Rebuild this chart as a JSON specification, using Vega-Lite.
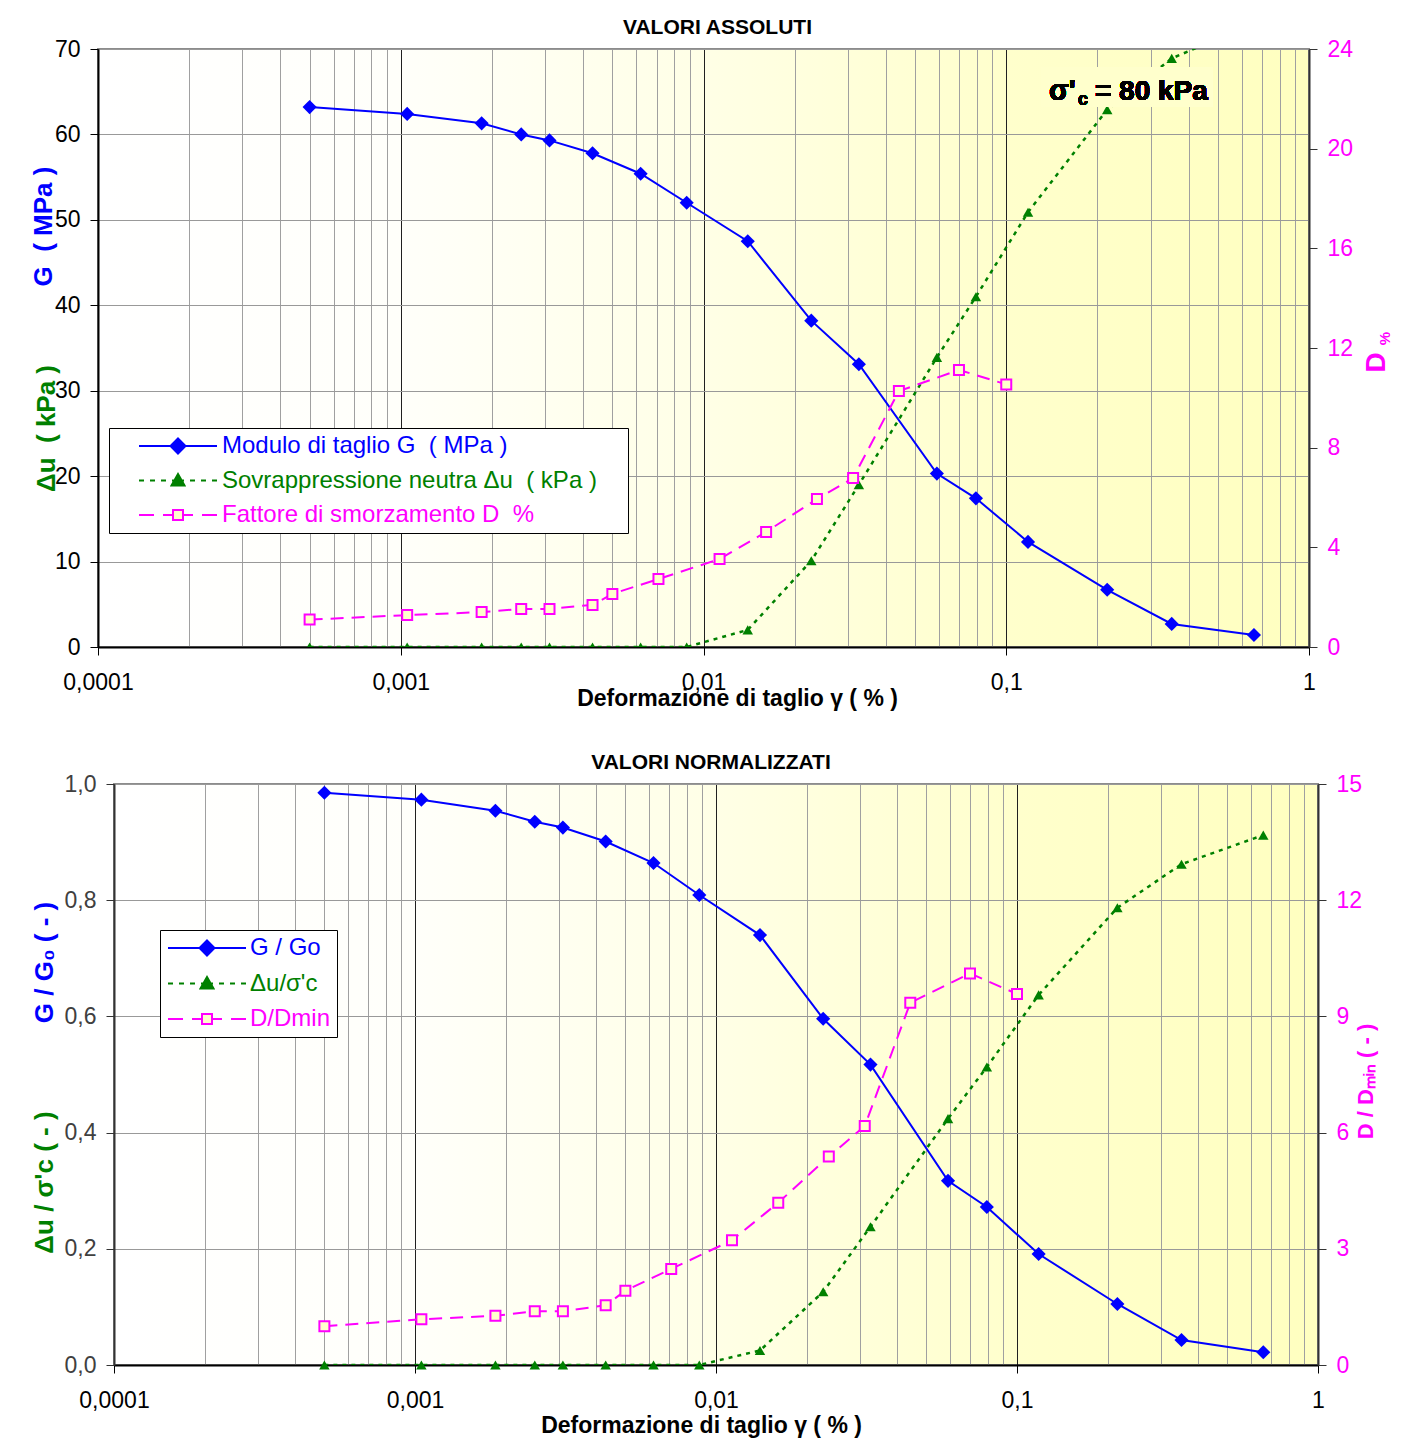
{
  "$schema": "https://vega.github.io/schema/vega-lite/v6.json",
  "background": "white",
  "padding": {"left": 29, "top": 16, "right": 0, "bottom": 0},
  "autosize": {"type": "pad"},
  "config": {"font": "Liberation Sans"},
  "datasets": {
    "top": [
      {"k": "G", "x": 0.0005, "v": 63.2}, {"k": "G", "x": 0.00105, "v": 62.4}, {"k": "G", "x": 0.00185, "v": 61.3},
      {"k": "G", "x": 0.0025, "v": 60.0}, {"k": "G", "x": 0.0031, "v": 59.3}, {"k": "G", "x": 0.0043, "v": 57.8},
      {"k": "G", "x": 0.0062, "v": 55.4}, {"k": "G", "x": 0.0088, "v": 52.0}, {"k": "G", "x": 0.014, "v": 47.5},
      {"k": "G", "x": 0.0227, "v": 38.2}, {"k": "G", "x": 0.0326, "v": 33.1}, {"k": "G", "x": 0.059, "v": 20.3},
      {"k": "G", "x": 0.0794, "v": 17.4}, {"k": "G", "x": 0.118, "v": 12.3}, {"k": "G", "x": 0.2155, "v": 6.7},
      {"k": "G", "x": 0.352, "v": 2.7}, {"k": "G", "x": 0.658, "v": 1.4},
      {"k": "du", "x": 0.0005, "v": 0}, {"k": "du", "x": 0.00105, "v": 0}, {"k": "du", "x": 0.00185, "v": 0},
      {"k": "du", "x": 0.0025, "v": 0}, {"k": "du", "x": 0.0031, "v": 0}, {"k": "du", "x": 0.0043, "v": 0},
      {"k": "du", "x": 0.0062, "v": 0}, {"k": "du", "x": 0.0088, "v": 0}, {"k": "du", "x": 0.014, "v": 2.0},
      {"k": "du", "x": 0.0227, "v": 10.1}, {"k": "du", "x": 0.0326, "v": 19.0}, {"k": "du", "x": 0.059, "v": 33.9},
      {"k": "du", "x": 0.0794, "v": 41.0}, {"k": "du", "x": 0.118, "v": 50.9}, {"k": "du", "x": 0.2155, "v": 62.9},
      {"k": "du", "x": 0.352, "v": 68.9}, {"k": "du", "x": 0.658, "v": 73.0},
      {"k": "D", "x": 0.0005, "v": 1.1}, {"k": "D", "x": 0.00105, "v": 1.28}, {"k": "D", "x": 0.00185, "v": 1.40},
      {"k": "D", "x": 0.0025, "v": 1.53}, {"k": "D", "x": 0.0031, "v": 1.53}, {"k": "D", "x": 0.0043, "v": 1.69},
      {"k": "D", "x": 0.005, "v": 2.13}, {"k": "D", "x": 0.0071, "v": 2.73}, {"k": "D", "x": 0.0113, "v": 3.53},
      {"k": "D", "x": 0.0161, "v": 4.62}, {"k": "D", "x": 0.0237, "v": 5.94}, {"k": "D", "x": 0.0312, "v": 6.78},
      {"k": "D", "x": 0.0442, "v": 10.27}, {"k": "D", "x": 0.0698, "v": 11.12}, {"k": "D", "x": 0.1, "v": 10.54}
    ],
    "bot": [
      {"k": "G", "x": 0.0005, "v": 0.985}, {"k": "G", "x": 0.00105, "v": 0.973}, {"k": "G", "x": 0.00185, "v": 0.954},
      {"k": "G", "x": 0.0025, "v": 0.935}, {"k": "G", "x": 0.0031, "v": 0.925}, {"k": "G", "x": 0.0043, "v": 0.901},
      {"k": "G", "x": 0.0062, "v": 0.864}, {"k": "G", "x": 0.0088, "v": 0.809}, {"k": "G", "x": 0.014, "v": 0.740},
      {"k": "G", "x": 0.0227, "v": 0.596}, {"k": "G", "x": 0.0326, "v": 0.517}, {"k": "G", "x": 0.059, "v": 0.317},
      {"k": "G", "x": 0.0794, "v": 0.272}, {"k": "G", "x": 0.118, "v": 0.191}, {"k": "G", "x": 0.2155, "v": 0.105},
      {"k": "G", "x": 0.352, "v": 0.043}, {"k": "G", "x": 0.658, "v": 0.022},
      {"k": "du", "x": 0.0005, "v": 0}, {"k": "du", "x": 0.00105, "v": 0}, {"k": "du", "x": 0.00185, "v": 0},
      {"k": "du", "x": 0.0025, "v": 0}, {"k": "du", "x": 0.0031, "v": 0}, {"k": "du", "x": 0.0043, "v": 0},
      {"k": "du", "x": 0.0062, "v": 0}, {"k": "du", "x": 0.0088, "v": 0}, {"k": "du", "x": 0.014, "v": 0.025},
      {"k": "du", "x": 0.0227, "v": 0.126}, {"k": "du", "x": 0.0326, "v": 0.238}, {"k": "du", "x": 0.059, "v": 0.424},
      {"k": "du", "x": 0.0794, "v": 0.513}, {"k": "du", "x": 0.118, "v": 0.637}, {"k": "du", "x": 0.2155, "v": 0.787},
      {"k": "du", "x": 0.352, "v": 0.862}, {"k": "du", "x": 0.658, "v": 0.912},
      {"k": "D", "x": 0.0005, "v": 1.0}, {"k": "D", "x": 0.00105, "v": 1.18}, {"k": "D", "x": 0.00185, "v": 1.27},
      {"k": "D", "x": 0.0025, "v": 1.39}, {"k": "D", "x": 0.0031, "v": 1.39}, {"k": "D", "x": 0.0043, "v": 1.54},
      {"k": "D", "x": 0.005, "v": 1.92}, {"k": "D", "x": 0.0071, "v": 2.48}, {"k": "D", "x": 0.0113, "v": 3.22},
      {"k": "D", "x": 0.0161, "v": 4.19}, {"k": "D", "x": 0.0237, "v": 5.38}, {"k": "D", "x": 0.0312, "v": 6.17},
      {"k": "D", "x": 0.0442, "v": 9.35}, {"k": "D", "x": 0.0698, "v": 10.11}, {"k": "D", "x": 0.1, "v": 9.58}
    ]
  },
  "resolve": {"scale": {"color": "independent"}, "legend": {"color": "independent"}},
  "spacing": 40,
  "vconcat": [
    {
      "width": 1211,
      "height": 598,
      "data": {"name": "top"},
      "view": {
        "fill": {"gradient": "linear", "x1": 0, "y1": 0, "x2": 1, "y2": 0,
          "stops": [{"offset": 0, "color": "#ffffff"}, {"offset": 0.25, "color": "#fffffa"}, {"offset": 0.5, "color": "#ffffe6"}, {"offset": 0.75, "color": "#ffffcc"}, {"offset": 1, "color": "#ffffc0"}]},
        "stroke": "#8c8c8c", "strokeWidth": 2
      },
      "title": {"text": "VALORI ASSOLUTI", "anchor": "middle", "frame": "group", "dx": 14, "offset": 0, "fontSize": 21, "font": "Liberation Sans", "fontWeight": "bold", "color": "#000000"},
      "resolve": {"scale": {"y": "independent"}},
      "layer": [
        {
          "transform": [{"filter": "datum.k === 'G'"}],
          "encoding": {
            "x": {"field": "x", "type": "quantitative",
              "scale": {"type": "log", "domain": [0.0001, 1], "nice": false},
              "axis": {
                "orient": "bottom",
                "values": [0.0001,0.0002,0.0003,0.0004,0.0005,0.0006,0.0007,0.0008,0.0009,0.001,0.002,0.003,0.004,0.005,0.006,0.007,0.008,0.009,0.01,0.02,0.03,0.04,0.05,0.06,0.07,0.08,0.09,0.1,0.2,0.3,0.4,0.5,0.6,0.7,0.8,0.9,1],
                "grid": true,
                "gridColor": {"condition": {"test": "datum.value==0.0001||datum.value==0.001||datum.value==0.01||datum.value==0.1||datum.value==1", "value": "#202020"}, "value": "#a0a0a0"},
                "gridWidth": 1,
                "tickOpacity": {"condition": {"test": "datum.value==0.0001||datum.value==0.001||datum.value==0.01||datum.value==0.1||datum.value==1", "value": 1}, "value": 0},
                "tickSize": 8, "tickColor": "#000000",
                "domainColor": "#000000", "domainWidth": 2,
                "labelExpr": "datum.value==0.0001 ? '0,0001' : datum.value==0.001 ? '0,001' : datum.value==0.01 ? '0,01' : datum.value==0.1 ? '0,1' : datum.value==1 ? '1' : ''",
                "labelFontSize": 23, "labelColor": "#000000", "labelPadding": 16,
                "labelFlush": false, "labelOverlap": false, "labelBound": false,
                "title": "Deformazione di taglio γ ( % )",
                "titleFontSize": 23, "titleFontWeight": "bold", "titleColor": "#000000",
                "titleX": 639, "titleY": 58, "titleAlign": "center", "titleBaseline": "alphabetic"
              }
            },
            "y": {"field": "v", "type": "quantitative",
              "scale": {"domain": [0, 70], "nice": false},
              "axis": {
                "orient": "left", "values": [0,10,20,30,40,50,60,70],
                "grid": true, "gridColor": "#999999", "gridWidth": 1,
                "labelFontSize": 23, "labelColor": "#000000", "labelPadding": 10,
                "tickSize": 8, "tickColor": "#000000", "domainColor": "#000000", "domainWidth": 2,
                "title": "G\u00a0\u00a0( MPa )", "titleColor": "#0000ff", "titleFontSize": 26, "titleFontWeight": "bold",
                "titleAngle": 270, "titleX": -55, "titleY": 177, "titleAlign": "center", "titleBaseline": "middle"
              }
            }
          },
          "layer": [
            {
              "mark": {"type": "line", "strokeWidth": 2},
              "encoding": {
                "color": {"field": "k", "type": "nominal",
                  "scale": {"domain": ["G", "du", "D"], "range": ["#0000ff", "#008000", "#ff00ff"]},
                  "legend": {
                    "orient": "none", "legendX": 11, "legendY": 379, "direction": "vertical", "title": null,
                    "padding": 6, "fillColor": "#ffffff", "strokeColor": "#000000", "cornerRadius": 0,
                    "symbolSize": 100, "symbolStrokeWidth": 2, "symbolOffset": 51, "labelOffset": 32, "rowPadding": 10.5,
                    "labelFont": "Liberation Sans", "labelFontSize": 24, "labelLimit": 0,
                    "labelExpr": "datum.value === 'G' ? 'Modulo di taglio G\u00a0\u00a0( MPa )' : datum.value === 'du' ? 'Sovrappressione neutra Δu\u00a0\u00a0( kPa )\u00a0\u2800' : 'Fattore di smorzamento D\u00a0\u00a0%'",
                    "encode": {
                      "symbols": {
                        "update": {
                          "shape": {"signal": "datum.value === 'G' ? 'M-7.8,0H7.8M0,-1.5L1.5,0L0,1.5L-1.5,0Z' : datum.value === 'du' ? 'M-7.8,0H-6.8M-5.6,0H-4.6M-3.4,0H-2.4M-1.2,0H1.2M2.4,0H3.4M4.6,0H5.6M6.8,0H7.8M0,-1.3L1.3,1L-1.3,1Z' : 'M-7.8,0H-4.8M-3,0H-1M1,0H3M4.8,0H7.8M-1,-1H1V1H-1Z'"},
                          "fill": {"signal": "datum.value === 'G' ? '#0000ff' : datum.value === 'du' ? '#008000' : '#ffffcc'"},
                          "stroke": {"signal": "datum.value === 'G' ? '#0000ff' : datum.value === 'du' ? '#008000' : '#ff00ff'"},
                          "strokeWidth": {"value": 2},
                          "opacity": {"value": 1}
                        }
                      },
                      "labels": {
                        "update": {
                          "fill": {"signal": "datum.value === 'G' ? '#0000ff' : datum.value === 'du' ? '#008000' : '#ff00ff'"}
                        }
                      }
                    }
                  }
                }
              }
            },
            {"mark": {"type": "point", "shape": "diamond", "filled": true, "color": "#0000ff", "size": 200, "opacity": 1}}
          ]
        },
        {
          "transform": [{"filter": "datum.k === 'du'"}],
          "encoding": {
            "x": {"field": "x", "type": "quantitative", "scale": {"type": "log", "domain": [0.0001, 1], "nice": false}},
            "y": {"field": "v", "type": "quantitative",
              "scale": {"domain": [0, 70], "nice": false},
              "axis": {
                "orient": "left", "labels": false, "ticks": false, "domain": false, "grid": false,
                "title": "Δu\u00a0\u00a0( kPa )", "titleColor": "#008000", "titleFontSize": 26, "titleFontWeight": "bold",
                "titleAngle": 270, "titleX": -52, "titleY": 379, "titleAlign": "center", "titleBaseline": "middle"
              }
            }
          },
          "layer": [
            {
              "mark": {"type": "line", "strokeWidth": 2.5, "strokeDash": [4, 5], "clip": true},
              "encoding": {"color": {"field": "k", "type": "nominal", "scale": {"domain": ["G", "du", "D"], "range": ["#0000ff", "#008000", "#ff00ff"]}}}
            },
            {"mark": {"type": "point", "shape": "triangle-up", "filled": true, "color": "#008000", "size": 110, "opacity": 1, "clip": true}}
          ]
        },
        {
          "transform": [{"filter": "datum.k === 'D'"}],
          "encoding": {
            "x": {"field": "x", "type": "quantitative", "scale": {"type": "log", "domain": [0.0001, 1], "nice": false}},
            "y": {"field": "v", "type": "quantitative",
              "scale": {"domain": [0, 24], "nice": false},
              "axis": {
                "orient": "right", "values": [0,4,8,12,16,20,24], "grid": false,
                "labelFontSize": 23, "labelColor": "#ff00ff", "labelPadding": 10,
                "tickSize": 8, "tickColor": "#333333", "domainColor": "#333333", "domainWidth": 2,
                "title": "D", "titleColor": "#ff00ff", "titleFontSize": 28, "titleFontWeight": "bold",
                "titleAngle": 270, "titleX": 67, "titleY": 313, "titleAlign": "center", "titleBaseline": "middle"
              }
            }
          },
          "layer": [
            {
              "mark": {"type": "line", "strokeWidth": 2, "strokeDash": [13, 8]},
              "encoding": {"color": {"field": "k", "type": "nominal", "scale": {"domain": ["G", "du", "D"], "range": ["#0000ff", "#008000", "#ff00ff"]}}}
            },
            {"mark": {"type": "point", "shape": "square", "filled": true, "fill": "#ffffcc", "stroke": "#ff00ff", "strokeWidth": 2, "size": 100, "opacity": 1}}
          ]
        },
        {
          "encoding": {
            "y": {"datum": 65, "type": "quantitative",
              "scale": {"domain": [0, 70], "nice": false},
              "axis": {
                "orient": "right", "labels": false, "ticks": false, "domain": false, "grid": false,
                "title": "%", "titleColor": "#ff00ff", "titleFontSize": 15, "titleFontWeight": "bold",
                "titleAngle": 270, "titleX": 75, "titleY": 289, "titleAlign": "center", "titleBaseline": "middle"
              }
            }
          },
          "layer": [
            {
              "mark": {"type": "rect", "fill": "#ffffcc"},
              "encoding": {
                "x": {"datum": 0.1303, "type": "quantitative", "scale": {"type": "log", "domain": [0.0001, 1], "nice": false}},
                "x2": {"datum": 0.481},
                "y": {"datum": 63.2, "type": "quantitative"},
                "y2": {"datum": 67.9}
              }
            },
            {
              "mark": {"type": "text", "text": "σ'", "align": "left", "baseline": "alphabetic", "fontSize": 29, "fontWeight": "bold", "font": "Liberation Sans", "color": "#000000"},
              "encoding": {
                "x": {"datum": 0.1384, "type": "quantitative", "scale": {"type": "log", "domain": [0.0001, 1], "nice": false}},
                "y": {"datum": 64.03, "type": "quantitative"}
              }
            },
            {
              "mark": {"type": "text", "text": "c", "align": "left", "baseline": "alphabetic", "fontSize": 18, "fontWeight": "bold", "font": "Liberation Sans", "color": "#000000", "dx": 29, "dy": 5},
              "encoding": {
                "x": {"datum": 0.1384, "type": "quantitative", "scale": {"type": "log", "domain": [0.0001, 1], "nice": false}},
                "y": {"datum": 64.03, "type": "quantitative"}
              }
            },
            {
              "mark": {"type": "text", "text": "= 80 kPa", "align": "left", "baseline": "alphabetic", "fontSize": 28, "fontWeight": "bold", "font": "Liberation Sans", "color": "#000000", "dx": 46},
              "encoding": {
                "x": {"datum": 0.1384, "type": "quantitative", "scale": {"type": "log", "domain": [0.0001, 1], "nice": false}},
                "y": {"datum": 64.03, "type": "quantitative"}
              }
            }
          ]
        }
      ]
    },
    {"spacing": -69, "hconcat": [
    {
      "width": 1, "height": 1,
      "data": {"values": []},
      "mark": {"type": "point", "opacity": 0},
      "view": {"stroke": null, "fill": null}
    },
    {
      "width": 1204,
      "height": 581,
      "data": {"name": "bot"},
      "view": {
        "fill": {"gradient": "linear", "x1": 0, "y1": 0, "x2": 1, "y2": 0,
          "stops": [{"offset": 0, "color": "#ffffff"}, {"offset": 0.25, "color": "#fffffa"}, {"offset": 0.5, "color": "#ffffe6"}, {"offset": 0.75, "color": "#ffffcc"}, {"offset": 1, "color": "#ffffc0"}]},
        "stroke": "#8c8c8c", "strokeWidth": 2
      },
      "title": {"text": "VALORI NORMALIZZATI", "anchor": "middle", "frame": "group", "dx": -5, "offset": 0, "fontSize": 21, "font": "Liberation Sans", "fontWeight": "bold", "color": "#000000"},
      "resolve": {"scale": {"y": "independent"}},
      "layer": [
        {
          "transform": [{"filter": "datum.k === 'G'"}],
          "encoding": {
            "x": {"field": "x", "type": "quantitative",
              "scale": {"type": "log", "domain": [0.0001, 1], "nice": false},
              "axis": {
                "orient": "bottom",
                "values": [0.0001,0.0002,0.0003,0.0004,0.0005,0.0006,0.0007,0.0008,0.0009,0.001,0.002,0.003,0.004,0.005,0.006,0.007,0.008,0.009,0.01,0.02,0.03,0.04,0.05,0.06,0.07,0.08,0.09,0.1,0.2,0.3,0.4,0.5,0.6,0.7,0.8,0.9,1],
                "grid": true,
                "gridColor": {"condition": {"test": "datum.value==0.0001||datum.value==0.001||datum.value==0.01||datum.value==0.1||datum.value==1", "value": "#202020"}, "value": "#a0a0a0"},
                "gridWidth": 1,
                "tickOpacity": {"condition": {"test": "datum.value==0.0001||datum.value==0.001||datum.value==0.01||datum.value==0.1||datum.value==1", "value": 1}, "value": 0},
                "tickSize": 8, "tickColor": "#000000",
                "domainColor": "#000000", "domainWidth": 2,
                "labelExpr": "datum.value==0.0001 ? '0,0001' : datum.value==0.001 ? '0,001' : datum.value==0.01 ? '0,01' : datum.value==0.1 ? '0,1' : datum.value==1 ? '1' : ''",
                "labelFontSize": 23, "labelColor": "#000000", "labelPadding": 16,
                "labelFlush": false, "labelOverlap": false, "labelBound": false,
                "title": "Deformazione di taglio γ ( % )",
                "titleFontSize": 23, "titleFontWeight": "bold", "titleColor": "#000000",
                "titleX": 587, "titleY": 67, "titleAlign": "center", "titleBaseline": "alphabetic"
              }
            },
            "y": {"field": "v", "type": "quantitative",
              "scale": {"domain": [0, 1], "nice": false},
              "axis": {
                "orient": "left", "values": [0,0.2,0.4,0.6,0.8,1],
                "labelExpr": "replace(format(datum.value, '.1f'), '.', ',')",
                "grid": true, "gridColor": "#999999", "gridWidth": 1,
                "labelFontSize": 23, "labelColor": "#404040", "labelPadding": 10,
                "tickSize": 8, "tickColor": "#333333", "domainColor": "#333333", "domainWidth": 2,
                "title": "G / G₀ ( - )", "titleColor": "#0000ff", "titleFontSize": 26, "titleFontWeight": "bold",
                "titleAngle": 270, "titleX": -70, "titleY": 178, "titleAlign": "center", "titleBaseline": "middle"
              }
            }
          },
          "layer": [
            {
              "mark": {"type": "line", "strokeWidth": 2},
              "encoding": {
                "color": {"field": "k", "type": "nominal",
                  "scale": {"domain": ["G", "du", "D"], "range": ["#0000ff", "#008000", "#ff00ff"]},
                  "legend": {
                    "orient": "none", "legendX": 62, "legendY": 146, "direction": "vertical", "title": null,
                    "padding": 6, "fillColor": "#ffffff", "strokeColor": "#000000", "cornerRadius": 0,
                    "symbolSize": 100, "symbolStrokeWidth": 2, "symbolOffset": 29, "labelOffset": 31, "rowPadding": 11.5,
                    "labelFont": "Liberation Sans", "labelFontSize": 24, "labelLimit": 0,
                    "labelExpr": "datum.value === 'G' ? 'G / Go' : datum.value === 'du' ? 'Δu/σ\\'c' : 'D/Dmin'",
                    "encode": {
                      "symbols": {
                        "update": {
                          "shape": {"signal": "datum.value === 'G' ? 'M-7.8,0H7.8M0,-1.5L1.5,0L0,1.5L-1.5,0Z' : datum.value === 'du' ? 'M-7.8,0H-6.8M-5.6,0H-4.6M-3.4,0H-2.4M-1.2,0H1.2M2.4,0H3.4M4.6,0H5.6M6.8,0H7.8M0,-1.3L1.3,1L-1.3,1Z' : 'M-7.8,0H-4.8M-3,0H-1M1,0H3M4.8,0H7.8M-1,-1H1V1H-1Z'"},
                          "fill": {"signal": "datum.value === 'G' ? '#0000ff' : datum.value === 'du' ? '#008000' : '#ffffcc'"},
                          "stroke": {"signal": "datum.value === 'G' ? '#0000ff' : datum.value === 'du' ? '#008000' : '#ff00ff'"},
                          "strokeWidth": {"value": 2},
                          "opacity": {"value": 1}
                        }
                      },
                      "labels": {
                        "update": {
                          "fill": {"signal": "datum.value === 'G' ? '#0000ff' : datum.value === 'du' ? '#008000' : '#ff00ff'"}
                        }
                      }
                    }
                  }
                }
              }
            },
            {"mark": {"type": "point", "shape": "diamond", "filled": true, "color": "#0000ff", "size": 200, "opacity": 1}}
          ]
        },
        {
          "transform": [{"filter": "datum.k === 'du'"}],
          "encoding": {
            "x": {"field": "x", "type": "quantitative", "scale": {"type": "log", "domain": [0.0001, 1], "nice": false}},
            "y": {"field": "v", "type": "quantitative",
              "scale": {"domain": [0, 1], "nice": false},
              "axis": {
                "orient": "left", "labels": false, "ticks": false, "domain": false, "grid": false,
                "title": "Δu / σ'c ( - )", "titleColor": "#008000", "titleFontSize": 26, "titleFontWeight": "bold",
                "titleAngle": 270, "titleX": -70, "titleY": 398, "titleAlign": "center", "titleBaseline": "middle"
              }
            }
          },
          "layer": [
            {
              "mark": {"type": "line", "strokeWidth": 2.5, "strokeDash": [4, 5], "clip": true},
              "encoding": {"color": {"field": "k", "type": "nominal", "scale": {"domain": ["G", "du", "D"], "range": ["#0000ff", "#008000", "#ff00ff"]}}}
            },
            {"mark": {"type": "point", "shape": "triangle-up", "filled": true, "color": "#008000", "size": 110, "opacity": 1}}
          ]
        },
        {
          "transform": [{"filter": "datum.k === 'D'"}],
          "encoding": {
            "x": {"field": "x", "type": "quantitative", "scale": {"type": "log", "domain": [0.0001, 1], "nice": false}},
            "y": {"field": "v", "type": "quantitative",
              "scale": {"domain": [0, 15], "nice": false},
              "axis": {
                "orient": "right", "values": [0,3,6,9,12,15], "grid": false,
                "labelFontSize": 23, "labelColor": "#ff00ff", "labelPadding": 10,
                "tickSize": 8, "tickColor": "#333333", "domainColor": "#333333", "domainWidth": 2,
                "title": "D / Dₘᵢₙ ( - )", "titleColor": "#ff00ff", "titleFontSize": 22, "titleFontWeight": "bold",
                "titleAngle": 270, "titleX": 47, "titleY": 297, "titleAlign": "center", "titleBaseline": "middle"
              }
            }
          },
          "layer": [
            {
              "mark": {"type": "line", "strokeWidth": 2, "strokeDash": [13, 8]},
              "encoding": {"color": {"field": "k", "type": "nominal", "scale": {"domain": ["G", "du", "D"], "range": ["#0000ff", "#008000", "#ff00ff"]}}}
            },
            {"mark": {"type": "point", "shape": "square", "filled": true, "fill": "#ffffcc", "stroke": "#ff00ff", "strokeWidth": 2, "size": 100, "opacity": 1}}
          ]
        }
      ]
    }
    ]}
  ]
}
